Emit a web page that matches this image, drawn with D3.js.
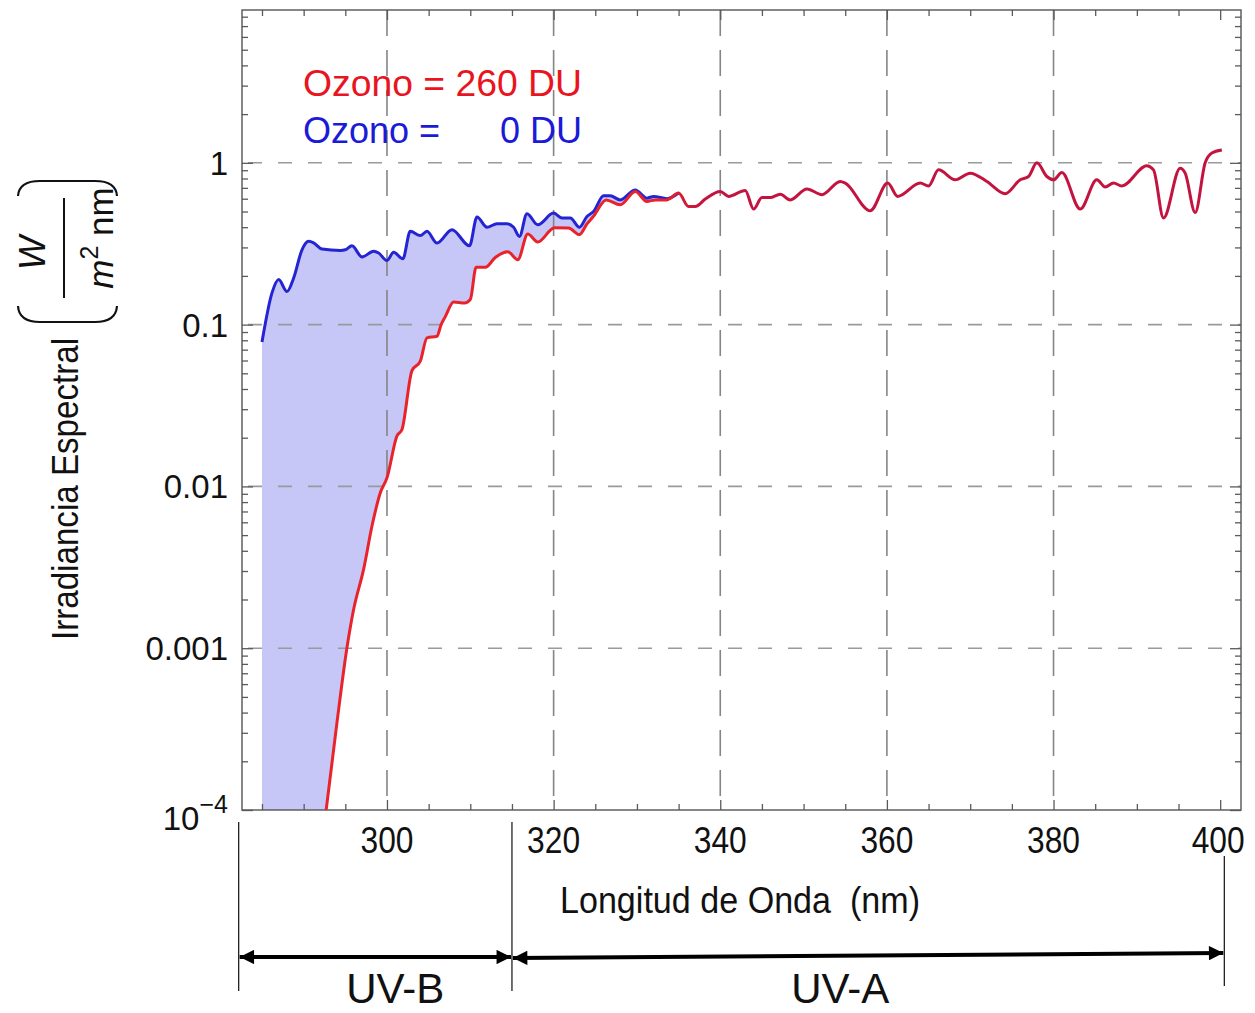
<!DOCTYPE html>
<html>
<head>
<meta charset="utf-8">
<script src="https://cdn.jsdelivr.net/npm/d3@7"></script>
<style>
    body { margin: 0; background: #fff; }
    #vis-uv { width: 1255px; height: 1013px; }
    text { font-family: "Liberation Sans", Arial, sans-serif; }
</style>
</head>
<body>
<div id="vis-uv"><svg id="vis-uv-svg" width="1255" height="1013"></svg></div>
<script>
// Ozono = 0 DU (blue)
const wlClear = [285, 286.2, 287, 288, 288.8, 289.8, 290.6, 291.2, 292.2, 294.4, 295, 295.8, 297, 298.4, 299,
    300, 300.8, 301.9, 302.8, 304, 304.8, 306, 307.8, 309.9, 310.8, 312, 313.2, 314.4, 315.2, 315.9, 316.8,
    318.1, 320, 321, 322, 323.1, 324, 324.8, 326, 326.8, 328, 329.8, 331.2, 332, 333.6, 335];
const irrClear = [0.078, 0.157, 0.19, 0.16, 0.194, 0.29, 0.327, 0.32, 0.293, 0.287, 0.29, 0.307, 0.262, 0.284, 0.277,
    0.249, 0.28, 0.255, 0.377, 0.355, 0.377, 0.319, 0.386, 0.307, 0.462, 0.40, 0.42, 0.42, 0.40, 0.351, 0.485,
    0.414, 0.489, 0.456, 0.456, 0.40, 0.466, 0.50, 0.625, 0.625, 0.59, 0.68, 0.605, 0.62, 0.60, 0.65];

// Ozono = 260 DU (red)
const wlOzone = [292.7, 294, 295.2, 296, 297.2, 298.2, 299.2, 300, 301.2, 301.8, 303, 304, 304.8, 306, 306.5,
    307, 308, 309.3, 310, 310.7, 311.8, 313, 314.5, 315.7, 316.9, 318.1, 320.1, 321.8, 323.1, 324, 324.8,
    326.3, 328, 329.8, 331.2, 332.2, 333.6, 335, 336.2, 337, 338.2, 340, 341, 343, 344, 345, 346, 347.2,
    348.4, 350.4, 352.2, 354.4, 355, 358, 360.1, 361.3, 364, 365, 366.2, 368.2, 370, 372, 374.2, 376, 377,
    378, 379.2, 380, 381, 383.2, 385.2, 386.2, 387.2, 388.2, 391.2, 392, 393.2, 395.2, 395.8, 397, 398.2,
    399, 400.2];
const irrOzone = [0.0001, 0.000348, 0.00101, 0.00174, 0.00308, 0.00569, 0.00914, 0.0113, 0.0205, 0.0225, 0.052,
    0.0594, 0.0828, 0.0847, 0.10, 0.112, 0.138, 0.136, 0.143, 0.226, 0.226, 0.26, 0.282, 0.252, 0.363,
    0.324, 0.397, 0.395, 0.36, 0.419, 0.468, 0.589, 0.55, 0.665, 0.577, 0.59, 0.59, 0.65, 0.537, 0.537,
    0.597, 0.665, 0.62, 0.675, 0.518, 0.61, 0.61, 0.64, 0.59, 0.69, 0.635, 0.767, 0.75, 0.505, 0.75, 0.62,
    0.75, 0.72, 0.905, 0.785, 0.863, 0.767, 0.644, 0.785, 0.823, 1.0, 0.823, 0.785, 0.87, 0.518, 0.785,
    0.708, 0.75, 0.72, 0.96, 0.905, 0.456, 0.927, 0.863, 0.493, 1.0, 1.15, 1.2];

const xTicks = [300, 320, 340, 360, 380, 400];
const yTicks = [1e-4, 1e-3, 1e-2, 1e-1, 1];
const yTickLabels = ["10|-4", "0.001", "0.01", "0.1", "1"];
const legendLabels = ["Ozono = 260 DU", "Ozono =", "0 DU"];
const bandEdges = [282.2, 315, 400.5];
const bandNames = ["UV-B", "UV-A"];

class SpectrumChart {
    constructor() {
        this.clear = wlClear.map((w, i) => [w, irrClear[i]]);
        this.ozone = wlOzone.map((w, i) => [w, irrOzone[i]]);
        this.svg = d3.select("#vis-uv-svg");
        //plot box:
        this.left = 242;
        this.right = 1241;
        this.top = 10;
        this.bottom = 810;

        //scales:
        this.scaleWl = d3.scaleLinear()
            .domain([282.6, 402.5])
            .range([this.left, this.right]);
        this.scaleIrr = d3.scaleLog()
            .domain([1e-4, 8.8])
            .range([this.bottom, this.top]);

        this.drawArea();
        this.drawGrid();
        this.drawAxis();
        this.drawPlot();
        this.drawLegend();
        this.drawBands();
    }

    drawArea() {
        let svg = this.svg;
        svg.append("clipPath").attr("id", "plot-clip")
            .append("rect")
            .attr("x", this.left).attr("y", this.top)
            .attr("width", this.right - this.left).attr("height", this.bottom - this.top);

        let area = d3.area()
            .x(d => this.scaleWl(d[0]))
            .y0(this.bottom)
            .y1(d => this.scaleIrr(d[1]))
            .curve(d3.curveMonotoneX);
        let g = svg.append("g").attr("clip-path", "url(#plot-clip)");
        g.append("path")
            .datum(this.clear)
            .attr("d", area)
            .attr("fill", "#c6c6f7");
        // cut out the part under the 260 DU curve
        g.append("path")
            .datum(this.ozone)
            .attr("d", area)
            .attr("fill", "#fff");
    }

    drawGrid() {
        let g = this.svg.append("g").attr("class", "grid");
        g.selectAll(".hgrid").data(yTicks.filter(d => d > 1e-4))
            .join("line")
            .attr("x1", this.left).attr("x2", this.right)
            .attr("y1", d => this.scaleIrr(d)).attr("y2", d => this.scaleIrr(d))
            .attr("stroke", "#9a9a9a")
            .attr("stroke-width", 1.6)
            .attr("stroke-dasharray", "14,16")
            .attr("stroke-dashoffset", -6);
        g.selectAll(".vgrid").data(xTicks.filter(d => d < 400))
            .join("line")
            .attr("x1", d => this.scaleWl(d)).attr("x2", d => this.scaleWl(d))
            .attr("y1", this.top).attr("y2", this.bottom)
            .attr("stroke", "#858585")
            .attr("stroke-width", 1.6)
            .attr("stroke-dasharray", "26,14");
    }

    drawAxis() {
        let svg = this.svg;
        let x = this.scaleWl, y = this.scaleIrr;
        let tickColor = "#5a5a5a";

        //minor values:
        let yMinor = [];
        for (let e = -4; e <= 0; e++) {
            for (let k = 2; k <= 9; k++) {
                let v = k * Math.pow(10, e);
                if (v < 8.8) yMinor.push(v);
            }
        }
        let xMinor = d3.range(285, 401, 5).filter(d => d % 20 !== 0);

        let axes = [
            [d3.axisLeft(y).tickValues(yTicks), `translate(${this.left},0)`, -11],
            [d3.axisLeft(y).tickValues(yMinor), `translate(${this.left},0)`, -6],
            [d3.axisRight(y).tickValues(yTicks), `translate(${this.right},0)`, -11],
            [d3.axisRight(y).tickValues(yMinor), `translate(${this.right},0)`, -6],
            [d3.axisBottom(x).tickValues(xTicks), `translate(0,${this.bottom})`, -10],
            [d3.axisBottom(x).tickValues(xMinor), `translate(0,${this.bottom})`, -6],
            [d3.axisTop(x).tickValues(xTicks), `translate(0,${this.top})`, -10],
            [d3.axisTop(x).tickValues(xMinor), `translate(0,${this.top})`, -6]
        ];
        axes.forEach(a => {
            let g = svg.append("g")
                .attr("transform", a[1])
                .call(a[0].tickSize(a[2]).tickFormat(""));
            g.select(".domain").remove();
            g.selectAll("line").attr("stroke", tickColor).attr("stroke-width", 1.3);
        });

        //frame:
        svg.append("rect")
            .attr("x", this.left).attr("y", this.top)
            .attr("width", this.right - this.left).attr("height", this.bottom - this.top)
            .attr("fill", "none")
            .attr("stroke", "#555")
            .attr("stroke-width", 1.4);

        //y labels:
        svg.selectAll(".y-label").data(yTicks)
            .join("text")
            .attr("class", "y-label")
            .attr("text-anchor", "end")
            .attr("font-size", 33)
            .attr("fill", "#111")
            .attr("x", 228)
            .attr("y", d => y(d) + 12)
            .each(function(d, i) {
                let parts = yTickLabels[i].split("|");
                if (parts.length === 1) {
                    d3.select(this).text(parts[0]);
                } else {
                    d3.select(this).attr("y", y(d) + 20);
                    d3.select(this).append("tspan").text(parts[0]);
                    d3.select(this).append("tspan")
                        .attr("font-size", 25)
                        .attr("dy", -17)
                        .text("\u2212" + parts[1].replace("-", ""));
                }
            });

        //x labels:
        svg.selectAll(".x-label").data(xTicks)
            .join("text")
            .attr("class", "x-label")
            .attr("text-anchor", "middle")
            .attr("font-size", 36)
            .attr("textLength", 53)
            .attr("lengthAdjust", "spacingAndGlyphs")
            .attr("fill", "#111")
            .attr("x", d => x(d) - (d === 400 ? 2 : 0))
            .attr("y", 853)
            .text(d => d);

        svg.append("text")
            .attr("x", 560).attr("y", 913)
            .attr("font-size", 37)
            .attr("textLength", 360)
            .attr("lengthAdjust", "spacingAndGlyphs")
            .attr("fill", "#111")
            .text("Longitud de Onda \u00a0(nm)");

        //y title with unit
        svg.append("text")
            .attr("transform", "translate(78,489) rotate(-90)")
            .attr("text-anchor", "middle")
            .attr("font-size", 37)
            .attr("textLength", 302)
            .attr("lengthAdjust", "spacingAndGlyphs")
            .attr("fill", "#111")
            .text("Irradiancia Espectral");
        svg.append("text")
            .attr("transform", "translate(45,253) rotate(-90)")
            .attr("text-anchor", "middle")
            .attr("font-size", 36)
            .attr("font-style", "italic")
            .attr("fill", "#111")
            .text("W");
        svg.append("line")
            .attr("x1", 64).attr("x2", 64)
            .attr("y1", 198).attr("y2", 298)
            .attr("stroke", "#111").attr("stroke-width", 2);
        let unit = svg.append("text")
            .attr("transform", "translate(113,238) rotate(-90)")
            .attr("text-anchor", "middle")
            .attr("font-size", 35)
            .attr("fill", "#111");
        unit.append("tspan").attr("font-style", "italic").text("m");
        unit.append("tspan").attr("font-size", 25).attr("dy", -15).text("2");
        unit.append("tspan").attr("dy", 15).text(" nm");
        //big parentheses
        svg.append("path")
            .attr("d", "M18,306 Q19,322 40,322 L95,322 Q116,322 117,306")
            .attr("fill", "none").attr("stroke", "#111").attr("stroke-width", 2.2);
        svg.append("path")
            .attr("d", "M18,196 Q19,181 40,181 L95,181 Q116,181 117,196")
            .attr("fill", "none").attr("stroke", "#111").attr("stroke-width", 2.2);
    }

    drawPlot() {
        let svg = this.svg;
        let line = d3.line()
            .x(d => this.scaleWl(d[0]))
            .y(d => this.scaleIrr(d[1]))
            .curve(d3.curveMonotoneX);

        //red turns crimson where it sits on the blue curve
        let grad = svg.append("defs").append("linearGradient")
            .attr("id", "ozone-stroke")
            .attr("gradientUnits", "userSpaceOnUse")
            .attr("x1", this.scaleWl(333)).attr("x2", this.scaleWl(338))
            .attr("y1", 0).attr("y2", 0);
        grad.append("stop").attr("offset", 0).attr("stop-color", "#e8232b");
        grad.append("stop").attr("offset", 1).attr("stop-color", "#c2143f");

        let g = svg.append("g").attr("clip-path", "url(#plot-clip)");
        g.append("path")
            .datum(this.clear)
            .attr("d", line)
            .attr("fill", "none")
            .attr("stroke", "#2424d2")
            .attr("stroke-width", 3)
            .attr("stroke-linejoin", "round");
        g.append("path")
            .datum(this.ozone)
            .attr("d", line)
            .attr("fill", "none")
            .attr("stroke", "url(#ozone-stroke)")
            .attr("stroke-width", 3)
            .attr("stroke-linejoin", "round");
    }

    drawLegend() {
        let svg = this.svg;
        svg.append("text")
            .attr("x", 303).attr("y", 96)
            .attr("font-size", 36)
            .attr("textLength", 279)
            .attr("lengthAdjust", "spacingAndGlyphs")
            .attr("fill", "#e8141e")
            .text(legendLabels[0]);
        svg.append("text")
            .attr("x", 303).attr("y", 143)
            .attr("font-size", 36)
            .attr("fill", "#1a1ad8")
            .text(legendLabels[1]);
        svg.append("text")
            .attr("x", 582).attr("y", 143)
            .attr("text-anchor", "end")
            .attr("font-size", 36)
            .attr("fill", "#1a1ad8")
            .text(legendLabels[2]);
    }

    drawBands() {
        let svg = this.svg;
        let x = this.scaleWl;
        let defs = svg.append("defs");
        ["start", "end"].forEach(k => {
            defs.append("marker")
                .attr("id", "arrow-" + k)
                .attr("viewBox", "0 0 10 10")
                .attr("refX", k === "end" ? 10 : 0).attr("refY", 5)
                .attr("markerWidth", 4.2).attr("markerHeight", 3.6)
                .attr("markerUnits", "strokeWidth")
                .attr("orient", "auto")
                .append("path")
                .attr("d", k === "end" ? "M0,0 L10,5 L0,10 z" : "M10,0 L0,5 L10,10 z")
                .attr("fill", "#000");
        });

        svg.selectAll(".band-edge").data(bandEdges)
            .join("line")
            .attr("class", "band-edge")
            .attr("x1", d => x(d)).attr("x2", d => x(d))
            .attr("y1", (d, i) => i === 2 ? 856 : 822)
            .attr("y2", (d, i) => i === 2 ? 986 : 991)
            .attr("stroke", "#222").attr("stroke-width", 1.3);

        let yArrow = [[957, 957], [958, 953]];
        bandNames.forEach((name, i) => {
            svg.append("line")
                .attr("x1", x(bandEdges[i]) + 1).attr("x2", x(bandEdges[i + 1]) - 1)
                .attr("y1", yArrow[i][0]).attr("y2", yArrow[i][1])
                .attr("stroke", "#000").attr("stroke-width", 4)
                .attr("marker-start", "url(#arrow-start)")
                .attr("marker-end", "url(#arrow-end)");
        });

        svg.selectAll(".band-name").data(bandNames)
            .join("text")
            .attr("class", "band-name")
            .attr("text-anchor", "middle")
            .attr("x", (d, i) => i === 0 ? x(301) : x(354.4))
            .attr("y", 1003)
            .attr("font-size", 42)
            .attr("textLength", 98)
            .attr("lengthAdjust", "spacingAndGlyphs")
            .attr("fill", "#111")
            .text(d => d);
    }
}

new SpectrumChart();
</script>
</body>
</html>
